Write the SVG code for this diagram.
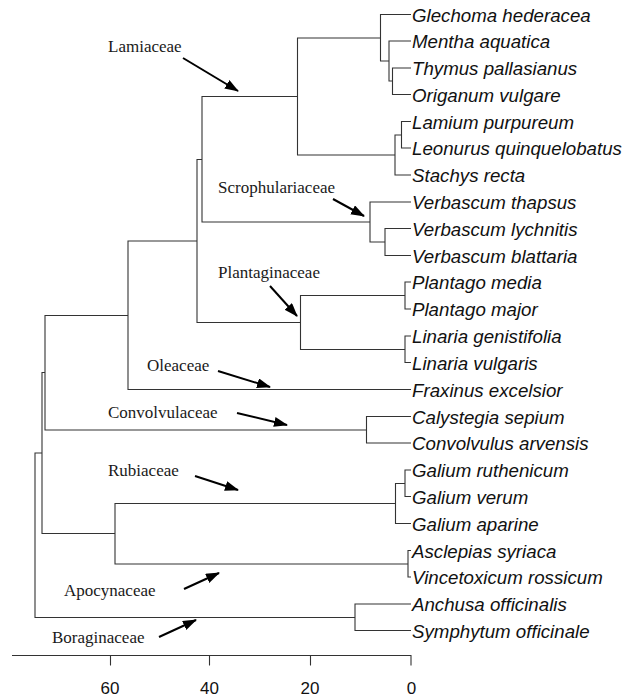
<svg xmlns="http://www.w3.org/2000/svg" width="624" height="699" viewBox="0 0 624 699">
<style>
.tree{fill:none;stroke:#333;stroke-width:1.1}
.leaf{font-family:"Liberation Sans",Arial,sans-serif;font-style:italic;font-size:18.7px;fill:#111}
.fam{font-family:"Liberation Serif","Times New Roman",serif;font-size:17px;fill:#1a1a1a}
.arr{fill:none;stroke:#000;stroke-width:2}
.axis{fill:none;stroke:#333;stroke-width:1.1}
.tick{font-family:"Liberation Sans",Arial,sans-serif;font-size:17px;fill:#111;text-anchor:middle}
</style>
<defs>
<marker id="ah" markerUnits="userSpaceOnUse" markerWidth="14" markerHeight="12" refX="13" refY="5" orient="auto">
<path d="M0,0 L14,5 L0,10 z" fill="#000"/>
</marker>
</defs>
<rect width="624" height="699" fill="#fff"/>
<g id="connectors">
<path class="tree" d="M411 68 H392.5 V94.5 H411"/>
<path class="tree" d="M411 41 H389 V81 H392.5"/>
<path class="tree" d="M411 14.5 H380.5 V61 H389"/>
<path class="tree" d="M411 121.5 H401.5 V148 H411"/>
<path class="tree" d="M401.5 135 H395 V175 H411"/>
<path class="tree" d="M380.5 38 H297.5 V155 H395"/>
<path class="tree" d="M411 228.5 H385 V255.5 H411"/>
<path class="tree" d="M411 202 H370 V242 H385"/>
<path class="tree" d="M297.5 96.5 H202 V222 H370"/>
<path class="tree" d="M411 282 H405 V309 H411"/>
<path class="tree" d="M411 336 H405 V362.5 H411"/>
<path class="tree" d="M405 295.5 H300.5 V349.5 H405"/>
<path class="tree" d="M202 159.5 H197 V322.5 H300.5"/>
<path class="tree" d="M197 241 H128 V389.5 H411"/>
<path class="tree" d="M411 416.5 H366.5 V443 H411"/>
<path class="tree" d="M128 315.5 H45 V430 H366.5"/>
<path class="tree" d="M411 470 H405 V496.5 H411"/>
<path class="tree" d="M405 483.5 H395.5 V523.5 H411"/>
<path class="tree" d="M411 550.5 H408 V577 H411"/>
<path class="tree" d="M395.5 503.5 H115 V564 H408"/>
<path class="tree" d="M45 372.5 H42 V533.5 H115"/>
<path class="tree" d="M411 604 H355 V630.5 H411"/>
<path class="tree" d="M42 453 H35 V617.5 H355"/>
</g>
<g id="leaves">
<g id="leaf-glechoma"><text class="leaf" x="412" y="21.5">Glechoma hederacea</text></g>
<g id="leaf-mentha"><text class="leaf" x="412" y="48">Mentha aquatica</text></g>
<g id="leaf-thymus"><text class="leaf" x="412" y="75">Thymus pallasianus</text></g>
<g id="leaf-origanum"><text class="leaf" x="412" y="101.5">Origanum vulgare</text></g>
<g id="leaf-lamium"><text class="leaf" x="412" y="128.5">Lamium purpureum</text></g>
<g id="leaf-leonurus"><text class="leaf" x="412" y="155">Leonurus quinquelobatus</text></g>
<g id="leaf-stachys"><text class="leaf" x="412" y="182">Stachys recta</text></g>
<g id="leaf-vthapsus"><text class="leaf" x="412" y="209">Verbascum thapsus</text></g>
<g id="leaf-vlychnitis"><text class="leaf" x="412" y="235.5">Verbascum lychnitis</text></g>
<g id="leaf-vblattaria"><text class="leaf" x="412" y="262.5">Verbascum blattaria</text></g>
<g id="leaf-pmedia"><text class="leaf" x="412" y="289">Plantago media</text></g>
<g id="leaf-pmajor"><text class="leaf" x="412" y="316">Plantago major</text></g>
<g id="leaf-lgenist"><text class="leaf" x="412" y="343">Linaria genistifolia</text></g>
<g id="leaf-lvulg"><text class="leaf" x="412" y="369.5">Linaria vulgaris</text></g>
<g id="leaf-fraxinus"><text class="leaf" x="412" y="396.5">Fraxinus excelsior</text></g>
<g id="leaf-calystegia"><text class="leaf" x="412" y="423.5">Calystegia sepium</text></g>
<g id="leaf-convolvulus"><text class="leaf" x="412" y="450">Convolvulus arvensis</text></g>
<g id="leaf-gruth"><text class="leaf" x="412" y="477">Galium ruthenicum</text></g>
<g id="leaf-gverum"><text class="leaf" x="412" y="503.5">Galium verum</text></g>
<g id="leaf-gaparine"><text class="leaf" x="412" y="530.5">Galium aparine</text></g>
<g id="leaf-asclepias"><text class="leaf" x="412" y="557.5">Asclepias syriaca</text></g>
<g id="leaf-vincetox"><text class="leaf" x="412" y="584">Vincetoxicum rossicum</text></g>
<g id="leaf-anchusa"><text class="leaf" x="412" y="611">Anchusa officinalis</text></g>
<g id="leaf-symphytum"><text class="leaf" x="412" y="637.5">Symphytum officinale</text></g>
</g>
<g id="families">
<g id="fam-lamiaceae"><text class="fam" x="108" y="52">Lamiaceae</text><line class="arr" x1="183" y1="58" x2="238" y2="91" marker-end="url(#ah)"/></g>
<g id="fam-scroph"><text class="fam" x="218" y="193">Scrophulariaceae</text><line class="arr" x1="333" y1="199" x2="364" y2="216" marker-end="url(#ah)"/></g>
<g id="fam-plantag"><text class="fam" x="218" y="278">Plantaginaceae</text><line class="arr" x1="270" y1="286" x2="297" y2="316" marker-end="url(#ah)"/></g>
<g id="fam-oleaceae"><text class="fam" x="147" y="371">Oleaceae</text><line class="arr" x1="218" y1="371" x2="270" y2="387" marker-end="url(#ah)"/></g>
<g id="fam-convolv"><text class="fam" x="108" y="418">Convolvulaceae</text><line class="arr" x1="237" y1="413" x2="287" y2="425" marker-end="url(#ah)"/></g>
<g id="fam-rubiaceae"><text class="fam" x="108" y="476">Rubiaceae</text><line class="arr" x1="195" y1="476" x2="238" y2="490" marker-end="url(#ah)"/></g>
<g id="fam-apocyn"><text class="fam" x="64" y="596">Apocynaceae</text><line class="arr" x1="184" y1="589" x2="219" y2="573" marker-end="url(#ah)"/></g>
<g id="fam-boragin"><text class="fam" x="52" y="643">Boraginaceae</text><line class="arr" x1="159" y1="637" x2="196" y2="620" marker-end="url(#ah)"/></g>
</g>
<g id="axis">
<path class="axis" d="M12 655.5 H411.5 M110.5 655.5 V665.5 M209.5 655.5 V665.5 M310.5 655.5 V665.5 M411 655.5 V665.5"/>
<text class="tick" x="110" y="694">60</text>
<text class="tick" x="209.5" y="694">40</text>
<text class="tick" x="310" y="694">20</text>
<text class="tick" x="411.5" y="694">0</text>
</g>
</svg>
